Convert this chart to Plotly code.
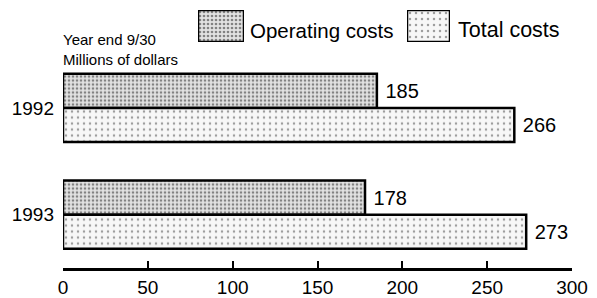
import plotly.graph_objects as go

years = ["1992", "1993"]
operating = [185, 178]
total = [266, 273]
x_ticks = [0, 50, 100, 150, 200, 250, 300]
series_names = ["Operating costs", "Total costs"]

FONT = "Liberation Sans, Arial, sans-serif"

op_marker = dict(color="#dcdcdc", line=dict(color="black", width=2.5),
                 pattern=dict(shape=".", fgcolor="#222", bgcolor="#e2e2e2", size=4, solidity=0.35))
tot_marker = dict(color="#f4f4f4", line=dict(color="black", width=2.5),
                  pattern=dict(shape=".", fgcolor="#444", bgcolor="#f7f7f7", size=6, solidity=0.14))

fig = go.Figure()
fig.add_trace(go.Bar(
    y=years, x=operating, orientation="h", name=series_names[0],
    texttemplate=" %{x}", textposition="outside",
    textfont=dict(size=20, color="black", family=FONT),
    marker=op_marker, cliponaxis=False, showlegend=False,
))
fig.add_trace(go.Bar(
    y=years, x=total, orientation="h", name=series_names[1],
    texttemplate=" %{x}", textposition="outside",
    textfont=dict(size=20, color="black", family=FONT),
    marker=tot_marker, cliponaxis=False, showlegend=False,
))

# legend swatches (drawn as unit bars on their own small axes)
fig.add_trace(go.Bar(y=[0], x=[1], width=[1], orientation="h", marker=op_marker,
                     xaxis="x2", yaxis="y2", showlegend=False, hoverinfo="skip"))
fig.add_trace(go.Bar(y=[0], x=[1], width=[1], orientation="h", marker=tot_marker,
                     xaxis="x3", yaxis="y3", showlegend=False, hoverinfo="skip"))

PW, PH = 509, 260  # plot area size in px


def px(pagex):
    return (pagex - 8 - 55) / PW


def py(pagey):
    return (PH - (pagey - 8)) / PH


hidden = dict(visible=False, fixedrange=True, showgrid=False, zeroline=False)

fig.update_layout(
    width=589, height=290,
    margin=dict(l=55, r=25, t=0, b=30),
    paper_bgcolor="white", plot_bgcolor="white",
    barmode="group", bargap=0.36, bargroupgap=0,
    font=dict(family=FONT, color="black", size=19),
    showlegend=False,
    xaxis=dict(range=[0, 300], tickvals=x_ticks, ticktext=[str(v) for v in x_ticks],
               domain=[0, 1],
               showgrid=False, zeroline=False, showline=True, linecolor="black", linewidth=2.5,
               ticks="inside", ticklen=7, tickwidth=2, tickcolor="black",
               tickfont=dict(size=19, family=FONT), automargin=False),
    yaxis=dict(autorange="reversed", domain=[0, py(54.5)], showgrid=False, zeroline=False,
               showline=False, ticks="", tickfont=dict(size=19, family=FONT),
               ticklabelstandoff=8, automargin=False),
    xaxis2=dict(range=[0, 1], domain=[px(198), px(244)], anchor="y2", **hidden),
    yaxis2=dict(range=[-0.5, 0.5], domain=[py(42), py(10)], anchor="x2", **hidden),
    xaxis3=dict(range=[0, 1], domain=[px(407), px(450)], anchor="y3", **hidden),
    yaxis3=dict(range=[-0.5, 0.5], domain=[py(42), py(10)], anchor="x3", **hidden),
    annotations=[
        dict(text=series_names[0], xref="paper", yref="paper", x=px(248), y=py(30),
             xanchor="left", yanchor="middle", showarrow=False, font=dict(size=20.5, family=FONT)),
        dict(text=series_names[1], xref="paper", yref="paper", x=px(456), y=py(30),
             xanchor="left", yanchor="middle", showarrow=False, font=dict(size=21.5, family=FONT)),
        dict(text="Year end 9/30<br>Millions of dollars", xref="paper", yref="paper",
             x=px(62), y=py(49), xanchor="left", yanchor="middle", align="left",
             showarrow=False, font=dict(size=15, family=FONT), borderpad=0),
    ],
)

fig.write_html("out.html")
